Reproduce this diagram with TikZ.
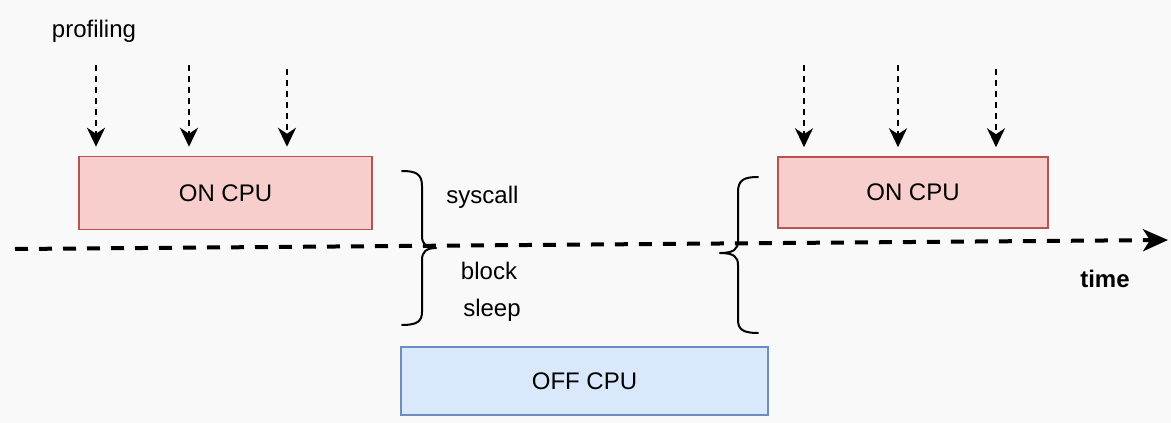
\documentclass[tikz,border=0pt]{standalone}
\usepackage{fontspec}
\setmainfont{Liberation Sans}
\usetikzlibrary{arrows.meta}
\definecolor{onfill}{HTML}{F8CECC}
\definecolor{ondraw}{HTML}{B85450}
\definecolor{offfill}{HTML}{DAE8FC}
\definecolor{offdraw}{HTML}{6C8EBF}
\definecolor{paper}{HTML}{F9F9F9}
\tikzset{
  lbl/.style={font=\fontsize{24}{28}\selectfont, inner sep=0pt},
  cpubox/.style={lbl, draw, line width=1.5pt, minimum height=#1},
  onbox/.style={cpubox=73pt, fill=onfill, draw=ondraw},
  offbox/.style={cpubox=68pt, fill=offfill, draw=offdraw},
  probe/.style={line width=2.5pt, dash pattern=on 6pt off 5pt,
    -{Stealth[length=19pt,width=18pt,inset=6pt]}, shorten >=9pt},
  timeline/.style={line width=4pt, dash pattern=on 13pt off 11pt,
    -{Stealth[length=25pt,width=22pt,inset=7pt]}},
  bracket/.style={line width=2pt, line cap=round, line join=round},
}
\begin{document}
\begin{tikzpicture}[x=1pt, y=-1pt]
  % page
  \fill[paper] (0,0) rectangle (1171,423);
  \useasboundingbox (0,0) rectangle (1171,423);

  % CPU phases
  \node[onbox, minimum width=293pt] (on1) at (225.5,193) {\raisebox{-1.5pt}{ON CPU}};
  \node[onbox, minimum width=270pt, minimum height=71pt] (on2) at (913,192.5) {\raisebox{-1.5pt}{ON CPU}};
  \node[offbox, minimum width=367pt] (off) at (584.5,381) {\raisebox{-1.5pt}{OFF CPU}};

  % time axis
  \coordinate (t0) at (15,249);
  \coordinate (t1) at (1168,240);
  \draw[timeline] (t0) -- (t1);
  \node[lbl, font=\fontsize{24}{28}\selectfont\bfseries] (time) at (1105,279) {time};

  % sampling ticks
  \node[lbl] (prof) at (94,31) {profiling};
  \coordinate (s1) at (96,65);
  \coordinate (s2) at (189,65);
  \coordinate (s3) at (287,69);
  \coordinate (s4) at (804,65);
  \coordinate (s5) at (898,65);
  \coordinate (s6) at (996,69);
  \foreach \s/\b in {s1/on1, s2/on1, s3/on1, s4/on2, s5/on2, s6/on2}
    \draw[probe] (\s) -- (\s |- \b.north);

  % leaving the CPU
  \draw[bracket] (402,171) .. controls (416,171) and (422,174) .. (422,186)
    -- (422,236) .. controls (422,244) and (426,248) .. (436,248)
    .. controls (426,248) and (422,252) .. (422,260)
    -- (422,312) .. controls (422,322) and (416,325) .. (402,325);
  \node[lbl] (sys) at (482.5,197) {syscall};
  \node[lbl] (blk) at (489,271) {block};
  \node[lbl] (slp) at (492,310) {sleep};

  % returning to the CPU
  \draw[bracket] (758,177) .. controls (744,177) and (738,180) .. (738,192)
    -- (738,241) .. controls (738,249) and (734,253) .. (720,253)
    .. controls (734,253) and (738,257) .. (738,265)
    -- (738,320) .. controls (738,330) and (744,333) .. (758,333);
\end{tikzpicture}
\end{document}
